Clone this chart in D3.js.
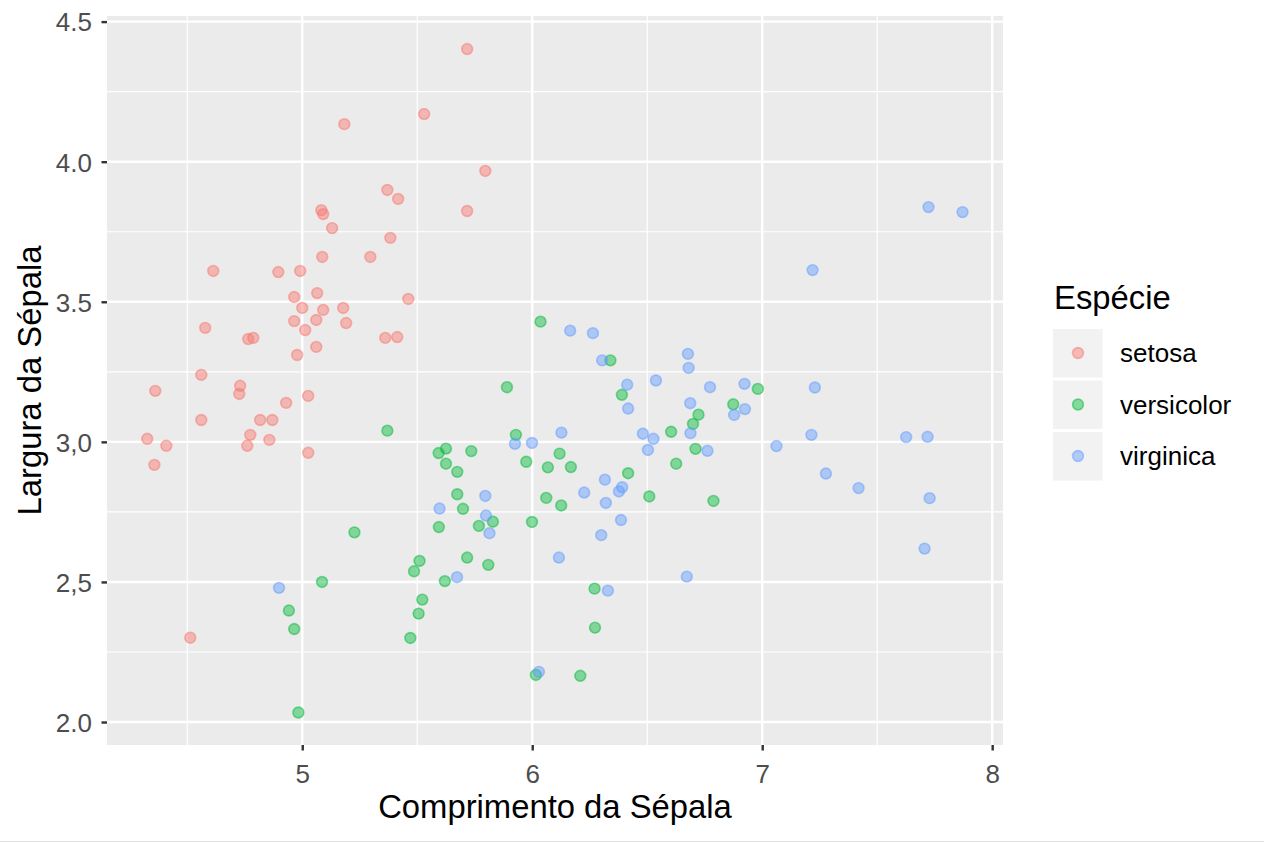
<!DOCTYPE html>
<html><head><meta charset="utf-8">
<script src="https://cdn.jsdelivr.net/npm/d3@7"></script>
<style>body{margin:0;background:#fff;} text{font-family:"Liberation Sans",Arial,Helvetica,sans-serif;}</style>
</head><body>
<svg id="chart" width="1264" height="843"></svg>
<script>
const species = ["setosa","versicolor","virginica"];
const colors = ["#F8766D","#00BA38","#619CFF"];
const xTicks = [5,6,7,8];
const xTickLabels = ["5","6","7","8"];
const yTicks = [2.0,2.5,3.0,3.5,4.0,4.5];
const yTickLabels = ["2.0","2,5","3,0","3.5","4.0","4.5"];
const xMinor = [4.5,5.5,6.5,7.5];
const yMinor = [2.25,2.75,3.25,3.75,4.25];

const setosaX = [5.717,5.530,5.183,5.796,5.370,5.417,5.083,5.091,5.717,5.130,5.383,5.296,5.087,4.613,4.896,4.991,5.065,4.965,5.461,5.178,5.000,5.091,5.191,5.061,4.965,4.578,5.013,5.361,5.413,4.765,4.787,5.061,4.978,4.561,4.361,4.730,4.726,4.930,5.026,4.561,4.817,4.870,4.774,4.326,4.409,4.761,4.857,4.357,5.026,4.513];
const setosaY = [4.402,4.170,4.134,3.967,3.899,3.867,3.827,3.813,3.824,3.763,3.728,3.660,3.660,3.610,3.606,3.610,3.531,3.517,3.510,3.478,3.478,3.471,3.424,3.435,3.431,3.407,3.399,3.371,3.374,3.367,3.371,3.339,3.310,3.239,3.182,3.200,3.171,3.139,3.164,3.078,3.078,3.078,3.025,3.011,2.986,2.986,3.007,2.918,2.961,2.301];

const versicolorX = [5.370,5.227,5.086,4.942,4.965,4.983,6.036,6.340,5.890,6.390,5.929,5.593,5.625,5.735,5.625,5.674,5.974,6.119,6.068,6.168,6.417,5.674,6.509,6.061,6.126,5.699,5.829,5.768,5.594,5.999,5.510,5.486,5.717,5.809,5.620,6.271,5.522,5.506,5.470,6.273,6.016,6.209,6.981,6.874,6.723,6.699,6.604,6.710,6.626,6.788];
const versicolorY = [3.040,2.677,2.500,2.398,2.332,2.034,3.429,3.291,3.195,3.168,3.025,2.960,2.976,2.967,2.922,2.893,2.929,2.958,2.909,2.910,2.888,2.813,2.805,2.800,2.773,2.761,2.715,2.700,2.696,2.714,2.575,2.538,2.587,2.561,2.503,2.476,2.437,2.387,2.300,2.337,2.168,2.165,3.189,3.134,3.097,3.064,3.036,2.975,2.922,2.789];

const virginicaX = [4.899,6.165,6.264,6.304,6.413,6.417,6.538,6.127,6.481,6.527,6.503,5.925,5.999,6.316,6.391,6.377,6.226,5.796,6.320,5.597,5.799,5.814,6.386,6.300,6.116,5.673,6.329,6.029,6.677,6.680,6.773,6.923,7.229,6.687,6.925,6.878,6.688,6.762,7.062,7.214,7.277,6.672,7.723,7.871,7.219,7.626,7.719,7.419,7.728,7.706];
const virginicaY = [2.479,3.397,3.388,3.291,3.204,3.119,3.219,3.033,3.029,3.011,2.971,2.993,2.996,2.865,2.838,2.823,2.819,2.807,2.782,2.762,2.737,2.674,2.721,2.667,2.587,2.517,2.469,2.179,3.314,3.264,3.195,3.207,3.194,3.138,3.117,3.096,3.031,2.968,2.985,3.025,2.887,2.519,3.838,3.820,3.613,3.017,3.018,2.835,2.799,2.619];

const seriesX = [setosaX, versicolorX, virginicaX];
const seriesY = [setosaY, versicolorY, virginicaY];

const P = {left:107, right:1003, top:16, bottom:745};
const x = d3.scaleLinear().domain([4.151, 8.047]).range([P.left, P.right]);
const y = d3.scaleLinear().domain([1.918, 4.520]).range([P.bottom, P.top]);

const svg = d3.select("#chart");
svg.append("rect").attr("width",1264).attr("height",843).attr("fill","#fff");
svg.append("line").attr("x1",0).attr("x2",1264).attr("y1",841.5).attr("y2",841.5).attr("stroke","#e3e3e3").attr("stroke-width",1);

svg.append("rect").attr("x",P.left).attr("y",P.top).attr("width",P.right-P.left).attr("height",P.bottom-P.top).attr("fill","#EBEBEB");

const grid = svg.append("g");
grid.selectAll(".xm").data(xMinor).join("line").attr("x1",d=>x(d)).attr("x2",d=>x(d)).attr("y1",P.top).attr("y2",P.bottom).attr("stroke","#fff").attr("stroke-width",1.2);
grid.selectAll(".ym").data(yMinor).join("line").attr("y1",d=>y(d)).attr("y2",d=>y(d)).attr("x1",P.left).attr("x2",P.right).attr("stroke","#fff").attr("stroke-width",1.2);
grid.selectAll(".xM").data(xTicks).join("line").attr("x1",d=>x(d)).attr("x2",d=>x(d)).attr("y1",P.top).attr("y2",P.bottom).attr("stroke","#fff").attr("stroke-width",2.4);
grid.selectAll(".yM").data(yTicks).join("line").attr("y1",d=>y(d)).attr("y2",d=>y(d)).attr("x1",P.left).attr("x2",P.right).attr("stroke","#fff").attr("stroke-width",2.4);

// axes
const xAxis = d3.axisBottom(x).tickValues(xTicks).tickFormat((d,i)=>xTickLabels[i]).tickSize(5.5).tickPadding(4);
const gx = svg.append("g").attr("transform",`translate(0,${P.bottom})`).call(xAxis);
gx.select(".domain").remove();
gx.selectAll(".tick line").attr("stroke","#333").attr("stroke-width",2.4);
gx.selectAll(".tick text").attr("fill","#4d4d4d").style("font-size","26px").attr("y",null).attr("dy",null).attr("transform","translate(0,38)");

const yAxis = d3.axisLeft(y).tickValues(yTicks).tickFormat((d,i)=>yTickLabels[i]).tickSize(5.5).tickPadding(4);
const gy = svg.append("g").attr("transform",`translate(${P.left},0)`).call(yAxis);
gy.select(".domain").remove();
gy.selectAll(".tick line").attr("stroke","#333").attr("stroke-width",2.4);
gy.selectAll(".tick text").attr("fill","#4d4d4d").style("font-size","26px").attr("x",-15).attr("dy","0.36em");

// points
species.forEach((s,i)=>{
  const data = seriesX[i].map((v,j)=>[v, seriesY[i][j]]);
  svg.append("g").selectAll("circle").data(data).join("circle")
    .attr("cx",d=>x(d[0])).attr("cy",d=>y(d[1])).attr("r",5.4)
    .attr("fill",colors[i]).attr("fill-opacity",0.45)
    .attr("stroke",colors[i]).attr("stroke-opacity",0.5).attr("stroke-width",1.6);
});

// titles
svg.append("text").attr("x",(P.left+P.right)/2).attr("y",818).attr("text-anchor","middle").style("font-size","32.8px").attr("fill","#000").text("Comprimento da Sépala");
svg.append("text").attr("transform",`translate(41,${(P.top+P.bottom)/2}) rotate(-90)`).attr("text-anchor","middle").style("font-size","32.8px").attr("fill","#000").text("Largura da Sépala");

// legend
const lg = svg.append("g");
lg.append("text").attr("x",1054).attr("y",309).style("font-size","32.8px").attr("fill","#000").text("Espécie");
species.forEach((s,i)=>{
  const top = 329 + i*51.5;
  lg.append("rect").attr("x",1053).attr("y",top).attr("width",49.5).attr("height",48.5).attr("fill","#F2F2F2");
  lg.append("circle").attr("cx",1078).attr("cy",top+24).attr("r",5.4)
    .attr("fill",colors[i]).attr("fill-opacity",0.45)
    .attr("stroke",colors[i]).attr("stroke-opacity",0.5).attr("stroke-width",1.6);
  lg.append("text").attr("x",1120).attr("y",top+24).attr("dy","0.36em").style("font-size","26px").attr("fill","#000").text(s);
});
</script>
</body></html>
